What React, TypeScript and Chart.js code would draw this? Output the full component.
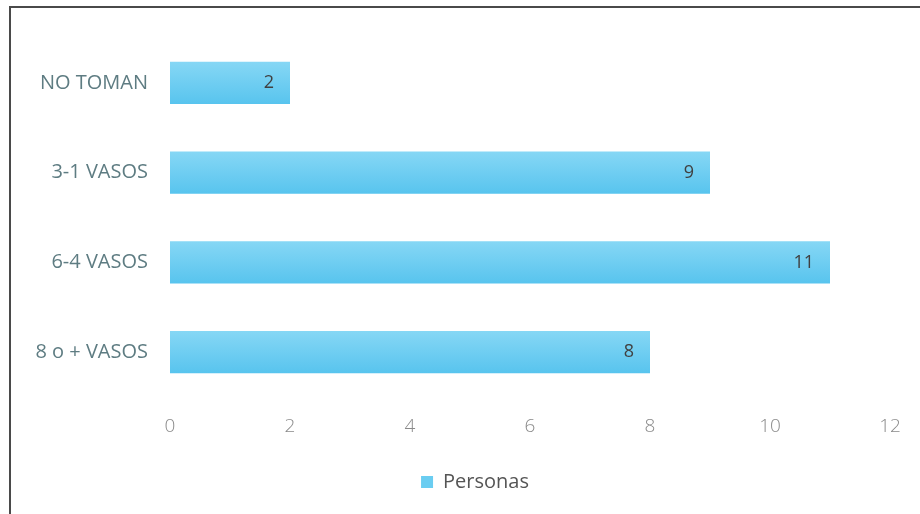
import React, { useEffect, useRef } from "react";
import { Chart, registerables } from "chart.js";

Chart.register(...registerables);

const categories = ["NO TOMAN", "3-1 VASOS", "6-4 VASOS", "8 o + VASOS"];
const personas = [2, 9, 11, 8];
const seriesName = "Personas";
const xTicks = [0, 2, 4, 6, 8, 10, 12];

const FONT = "'Open Sans', 'Noto Sans', sans-serif";
const BAR = "#6acdf1";
const BAR_TOP = "#86d7f5";
const BAR_BOTTOM = "#58c4ee";

const valueLabels = {
  id: "valueLabels",
  afterDatasetsDraw(chart: any) {
    const ctx = chart.ctx;
    const meta = chart.getDatasetMeta(0);
    ctx.save();
    ctx.font = `18px ${FONT}`;
    ctx.fillStyle = "#404040";
    ctx.textAlign = "right";
    ctx.textBaseline = "middle";
    meta.data.forEach((el: any, i: number) => {
      ctx.fillText(String(personas[i]), el.x - 16, el.y);
    });
    ctx.restore();
  },
};

const shiftLegend = {
  id: "shiftLegend",
  afterLayout(chart: any) {
    if (chart.legend) {
      chart.legend.left += 30;
      chart.legend.right += 30;
    }
  },
};

function barFill(context: any) {
  const chart = context.chart;
  if (!chart.chartArea || context.dataIndex === undefined || !chart.scales.y) return BAR;
  const yc = chart.scales.y.getPixelForValue(context.dataIndex);
  const half = 21;
  const g = chart.ctx.createLinearGradient(0, yc - half, 0, yc + half);
  g.addColorStop(0, BAR_TOP);
  g.addColorStop(1, BAR_BOTTOM);
  return g;
}

export default function App() {
  const ref = useRef<HTMLCanvasElement>(null);
  useEffect(() => {
    if (!ref.current) return;
    const chart = new Chart(ref.current, {
      type: "bar",
      data: {
        labels: categories,
        datasets: [
          {
            label: seriesName,
            data: personas,
            backgroundColor: barFill,
            borderWidth: 0,
            categoryPercentage: 1,
            barPercentage: 0.47,
          },
        ],
      },
      options: {
        indexAxis: "y",
        animation: false,
        responsive: false,
        maintainAspectRatio: false,
        layout: { padding: { top: 38, right: 30, left: 0, bottom: 12 } },
        scales: {
          x: {
            min: 0,
            max: 12,
            afterBuildTicks: (s: any) => {
              s.ticks = xTicks.map((v) => ({ value: v }));
            },
            grid: { display: false, drawTicks: false },
            border: { display: false },
            ticks: {
              padding: 18,
              color: "#8a8a8a",
              font: { family: FONT, size: 19, weight: "300" },
            },
            afterFit: (s: any) => {
              s.height = 63;
            },
          },
          y: {
            grid: { display: false, drawTicks: false },
            border: { display: false },
            ticks: {
              padding: 22,
              color: "#5e7c82",
              font: { family: FONT, size: 20 },
            },
            afterFit: (s: any) => {
              s.width = 170;
            },
          },
        },
        plugins: {
          legend: {
            position: "bottom",
            labels: {
              boxWidth: 12,
              boxHeight: 12,
              color: "#555555",
              font: { family: FONT, size: 20 },
              padding: 12,
              generateLabels: (c: any) =>
                Chart.defaults.plugins.legend.labels.generateLabels(c).map((it: any) => ({ ...it, fillStyle: BAR })),
            },
          },
          tooltip: { enabled: false },
        },
      },
      plugins: [valueLabels, shiftLegend],
    });
    return () => chart.destroy();
  }, []);
  return (
    <div style={{ position: "absolute", left: 0, top: 0, width: 920, height: 514, background: "#fff", overflow: "hidden" }}>
      <div
        style={{
          position: "absolute",
          left: 9,
          top: 6,
          width: 920,
          height: 520,
          borderTop: "2px solid #4a4a4a",
          borderLeft: "2px solid #4a4a4a",
        }}
      />
      <canvas ref={ref} width={920} height={514} style={{ position: "absolute", left: 0, top: 0 }} />
    </div>
  );
}
